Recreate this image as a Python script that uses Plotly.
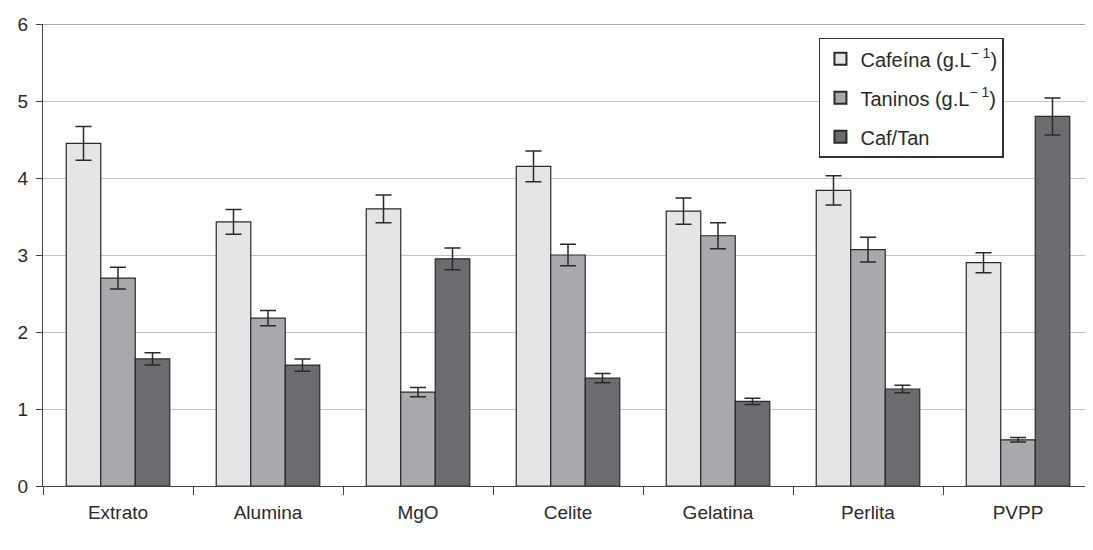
import plotly.graph_objects as go

categories = ["Extrato", "Alumina", "MgO", "Celite", "Gelatina", "Perlita", "PVPP"]
cafeina = [4.45, 3.43, 3.60, 4.15, 3.57, 3.84, 2.90]
cafeina_err = [0.22, 0.16, 0.18, 0.20, 0.17, 0.19, 0.13]
taninos = [2.70, 2.18, 1.22, 3.00, 3.25, 3.07, 0.60]
taninos_err = [0.14, 0.10, 0.06, 0.14, 0.17, 0.16, 0.03]
caftan = [1.65, 1.57, 2.95, 1.40, 1.10, 1.26, 4.80]
caftan_err = [0.08, 0.08, 0.14, 0.06, 0.04, 0.05, 0.24]

names = ["Cafeína (g.L<sup>− 1</sup>)", "Taninos (g.L<sup>− 1</sup>)", "Caf/Tan"]
colors = ["#e4e5e7", "#a8a9ac", "#6b6c70"]
series = [(cafeina, cafeina_err), (taninos, taninos_err), (caftan, caftan_err)]

fig = go.Figure()
for (vals, errs), name, col in zip(series, names, colors):
    fig.add_trace(go.Bar(
        x=categories, y=vals, name=name, legendgroup=name,
        marker=dict(color=col, line=dict(color="#2a2a2a", width=1.2)),
        error_y=dict(type="data", array=errs, visible=True,
                     color="#2a2a2a", thickness=1.5, width=8),
    ))

fig.update_layout(
    width=1085, height=542,
    margin=dict(l=35, r=0, t=16, b=64),
    barmode="group", bargap=0.31, bargroupgap=0,
    plot_bgcolor="white", paper_bgcolor="white",
    font=dict(family="Liberation Sans, Arial, sans-serif", size=19, color="#2a2a2a"),
    legend=dict(x=0.739, y=0.97, xanchor="left", yanchor="top",
                bordercolor="#333333", borderwidth=1.5, bgcolor="white",
                font=dict(size=20), tracegroupgap=10,
                itemsizing="constant"),
    showlegend=True,
)
fig.update_yaxes(range=[0, 6], dtick=1, showgrid=True, gridcolor="#c4c4c4", gridwidth=1,
                 showline=True, linecolor="#444444", linewidth=1.2,
                 ticks="outside", ticklen=6, tickcolor="#444444", zeroline=False,
                 ticklabelstandoff=4, automargin=False)
fig.update_xaxes(showline=True, linecolor="#444444", linewidth=1.2,
                 ticks="outside", ticklen=8, tickcolor="#444444", tickson="boundaries",
                 showgrid=False, automargin=False, ticklabelstandoff=9)
fig.add_shape(type="line", xref="paper", yref="y", x0=0, x1=1, y0=6, y1=6,
              line=dict(color="#555555", width=1.2))

fig.write_html("out.html")
